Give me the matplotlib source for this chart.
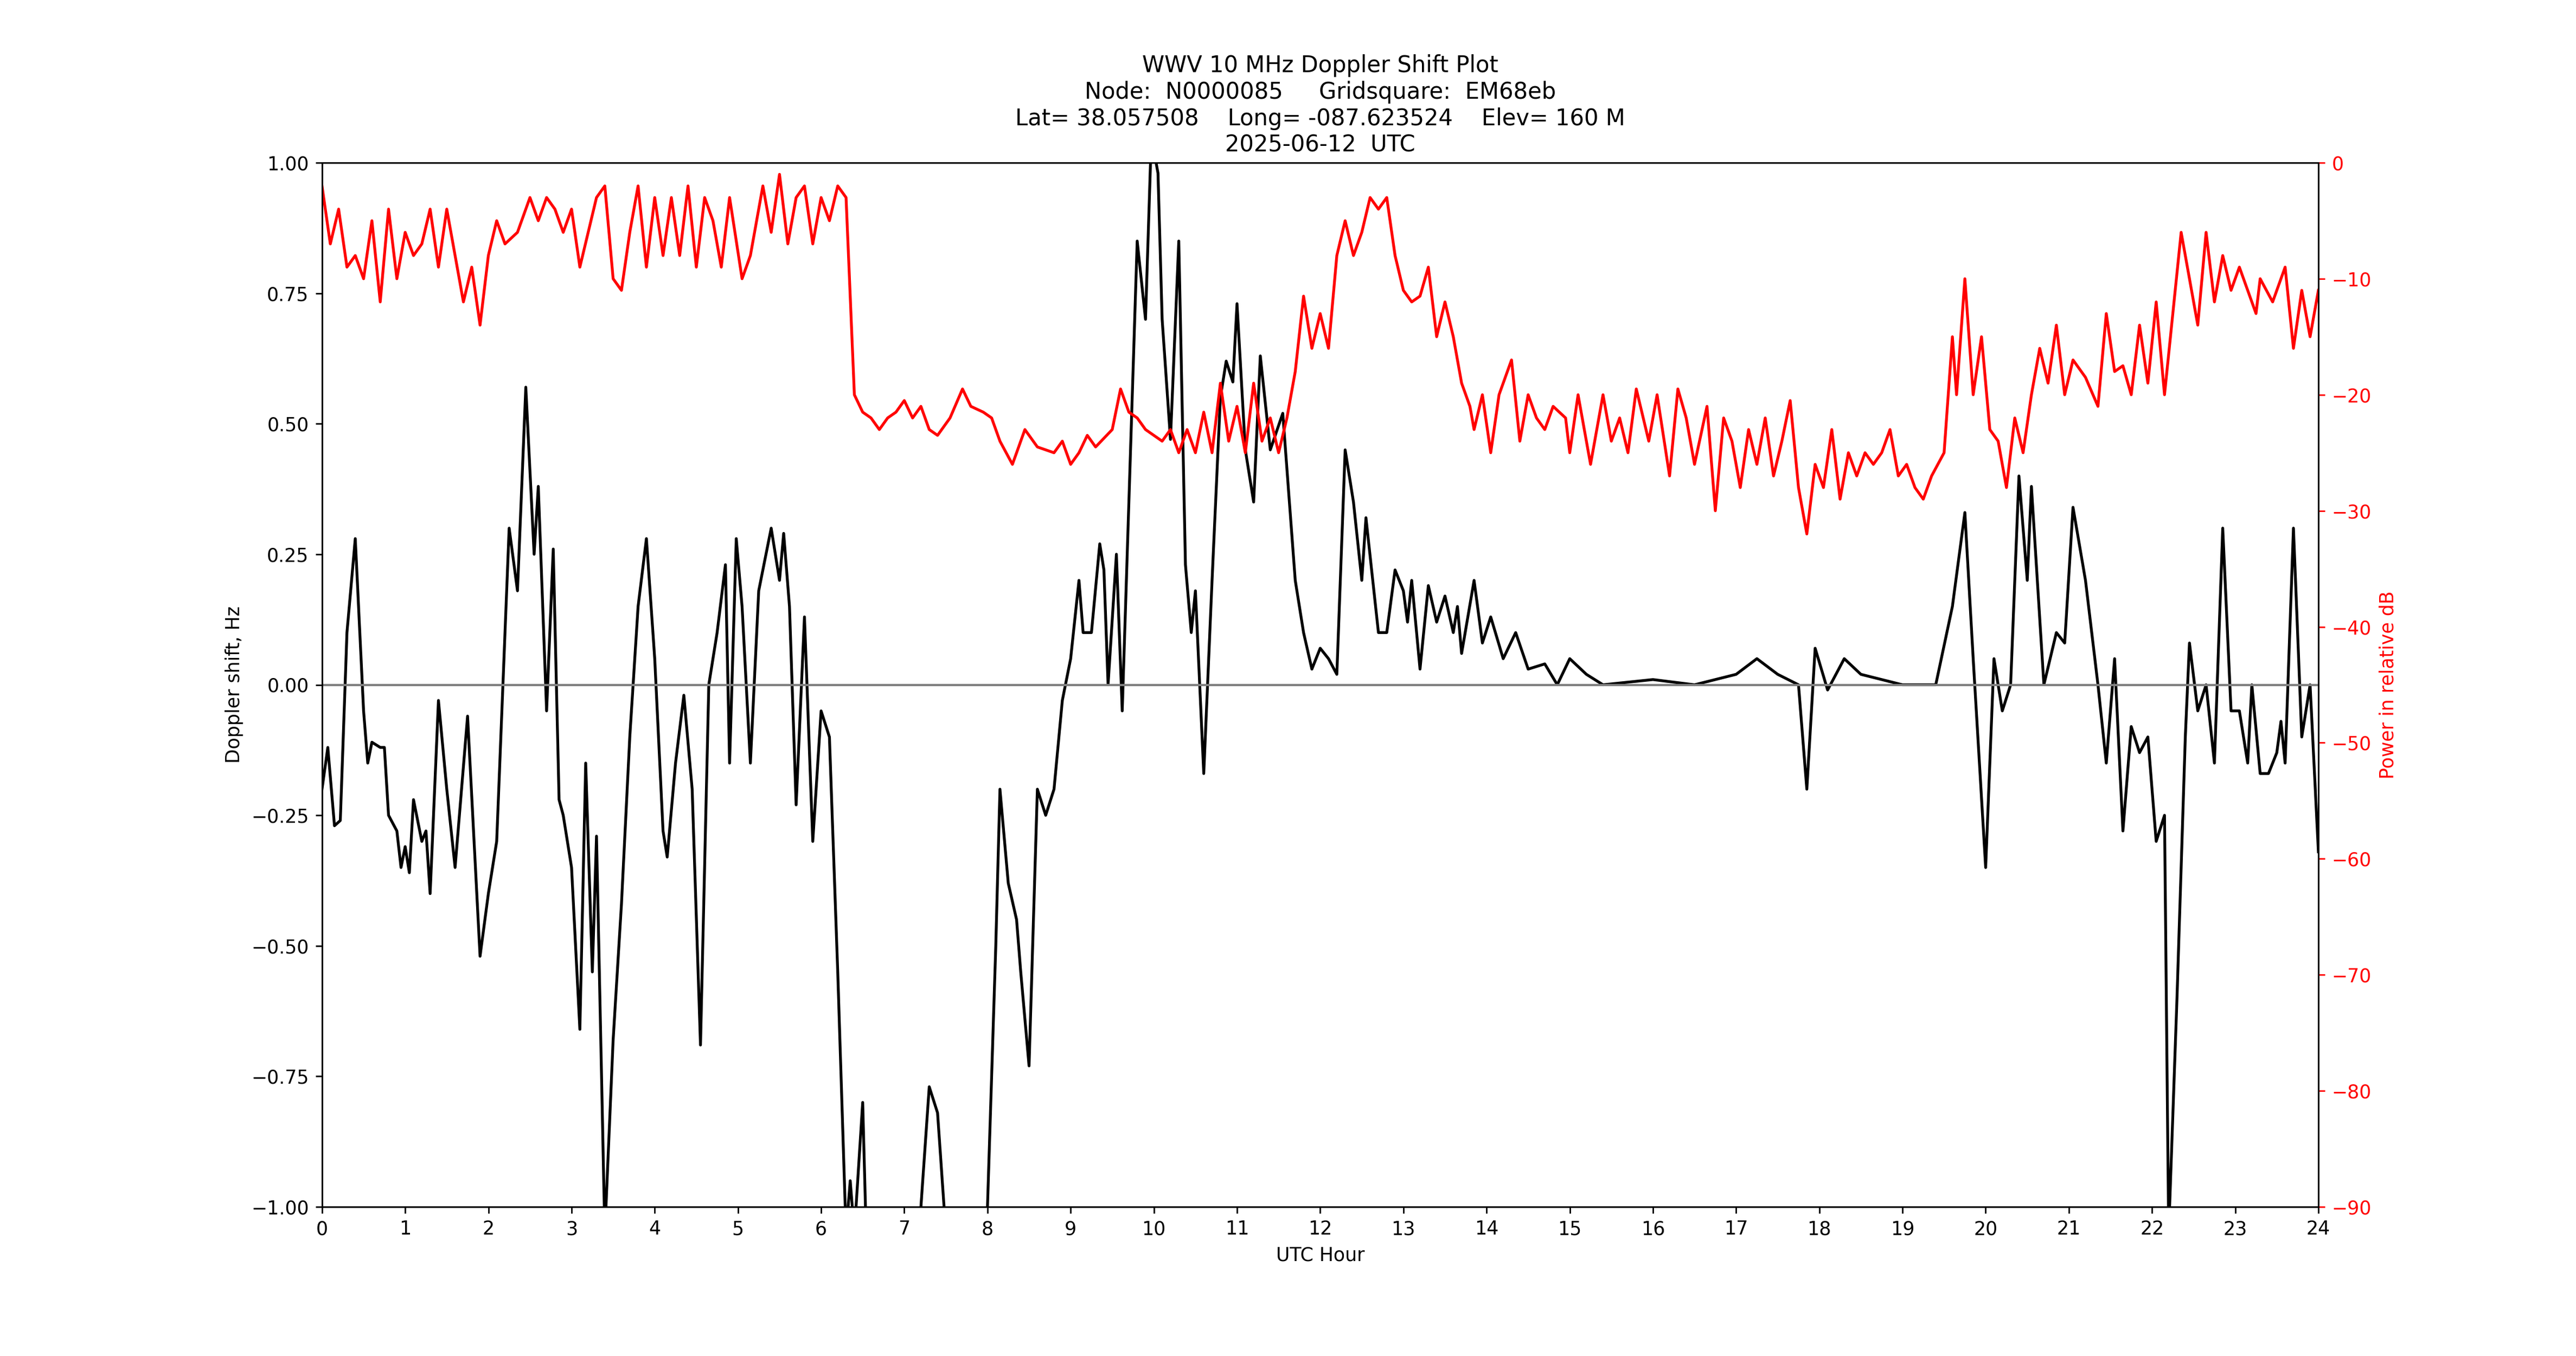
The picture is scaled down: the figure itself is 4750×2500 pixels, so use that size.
import matplotlib
matplotlib.use("Agg")
import matplotlib.pyplot as plt

# Doppler shift (Hz) vs UTC hour
dop_hr = [0, 0.07, 0.15, 0.22, 0.3, 0.4, 0.5, 0.55, 0.6, 0.7, 0.75, 0.8, 0.9, 0.95, 1.0, 1.05, 1.1, 1.2, 1.25, 1.3,
          1.4, 1.5, 1.6, 1.75, 1.9, 2.0, 2.1, 2.2, 2.25, 2.35, 2.45, 2.55, 2.6, 2.7, 2.78, 2.85, 2.9, 3.0, 3.1, 3.17,
          3.25, 3.3, 3.4, 3.5, 3.6, 3.7, 3.8, 3.9, 4.0, 4.1, 4.15, 4.25, 4.35, 4.45, 4.55, 4.65, 4.75, 4.85, 4.9, 4.98,
          5.05, 5.15, 5.25, 5.4, 5.5, 5.55, 5.62, 5.7, 5.8, 5.9, 6.0, 6.1, 6.2, 6.3, 6.35, 6.4, 6.5, 6.55, 7.0, 7.2,
          7.3, 7.4, 7.5, 7.8, 8.0, 8.1, 8.15, 8.25, 8.35, 8.4, 8.5, 8.6, 8.7, 8.8, 8.9, 9.0, 9.1, 9.15, 9.25, 9.35,
          9.4, 9.45, 9.55, 9.62, 9.7, 9.8, 9.9, 9.97, 10.05, 10.1, 10.2, 10.3, 10.38, 10.45, 10.5, 10.6, 10.7, 10.8, 10.87, 10.95,
          11.0, 11.1, 11.2, 11.28, 11.4, 11.55, 11.7, 11.8, 11.9, 12.0, 12.1, 12.2, 12.3, 12.4, 12.5, 12.55, 12.7, 12.8, 12.9, 13.0,
          13.05, 13.1, 13.2, 13.3, 13.4, 13.5, 13.6, 13.65, 13.7, 13.85, 13.95, 14.05, 14.2, 14.35, 14.5, 14.7, 14.85, 15.0, 15.2, 15.4,
          16.0, 16.5, 17.0, 17.25, 17.5, 17.75, 17.85, 17.95, 18.1, 18.3, 18.5, 19.0, 19.4, 19.6, 19.75, 19.85, 20.0, 20.1, 20.2, 20.3,
          20.4, 20.5, 20.55, 20.7, 20.85, 20.95, 21.05, 21.2, 21.35, 21.45, 21.55, 21.65, 21.75, 21.85, 21.95, 22.05, 22.15, 22.2, 22.3, 22.4,
          22.45, 22.55, 22.65, 22.75, 22.85, 22.95, 23.05, 23.15, 23.2, 23.3, 23.4, 23.5, 23.55, 23.6, 23.7, 23.8, 23.9, 24.0]
dop_hz = [-0.2, -0.12, -0.27, -0.26, 0.1, 0.28, -0.05, -0.15, -0.11, -0.12, -0.12, -0.25, -0.28, -0.35, -0.31, -0.36, -0.22, -0.3, -0.28, -0.4,
          -0.03, -0.2, -0.35, -0.06, -0.52, -0.4, -0.3, 0.1, 0.3, 0.18, 0.57, 0.25, 0.38, -0.05, 0.26, -0.22, -0.25, -0.35, -0.66, -0.15,
          -0.55, -0.29, -1.05, -0.68, -0.42, -0.1, 0.15, 0.28, 0.05, -0.28, -0.33, -0.15, -0.02, -0.2, -0.69, 0.0, 0.1, 0.23, -0.15, 0.28,
          0.15, -0.15, 0.18, 0.3, 0.2, 0.29, 0.15, -0.23, 0.13, -0.3, -0.05, -0.1, -0.55, -1.05, -0.95, -1.05, -0.8, -1.1, -1.2, -1.0,
          -0.77, -0.82, -1.05, -1.2, -1.0, -0.5, -0.2, -0.38, -0.45, -0.55, -0.73, -0.2, -0.25, -0.2, -0.03, 0.05, 0.2, 0.1, 0.1, 0.27,
          0.22, 0.0, 0.25, -0.05, 0.35, 0.85, 0.7, 1.05, 0.98, 0.7, 0.47, 0.85, 0.23, 0.1, 0.18, -0.17, 0.2, 0.55, 0.62, 0.58,
          0.73, 0.45, 0.35, 0.63, 0.45, 0.52, 0.2, 0.1, 0.03, 0.07, 0.05, 0.02, 0.45, 0.35, 0.2, 0.32, 0.1, 0.1, 0.22, 0.18,
          0.12, 0.2, 0.03, 0.19, 0.12, 0.17, 0.1, 0.15, 0.06, 0.2, 0.08, 0.13, 0.05, 0.1, 0.03, 0.04, 0.0, 0.05, 0.02, 0.0,
          0.01, 0.0, 0.02, 0.05, 0.02, 0.0, -0.2, 0.07, -0.01, 0.05, 0.02, 0.0, 0.0, 0.15, 0.33, 0.05, -0.35, 0.05, -0.05, 0.0,
          0.4, 0.2, 0.38, 0.0, 0.1, 0.08, 0.34, 0.2, 0.0, -0.15, 0.05, -0.28, -0.08, -0.13, -0.1, -0.3, -0.25, -1.05, -0.6, -0.1,
          0.08, -0.05, 0.0, -0.15, 0.3, -0.05, -0.05, -0.15, 0.0, -0.17, -0.17, -0.13, -0.07, -0.15, 0.3, -0.1, 0.0, -0.32]

# Received power (relative dB)
pwr_hr = [0, 0.1, 0.2, 0.3, 0.4, 0.5, 0.6, 0.7, 0.8, 0.9, 1.0, 1.1, 1.2, 1.3, 1.4, 1.5, 1.6, 1.7, 1.8, 1.9,
          2.0, 2.1, 2.2, 2.35, 2.5, 2.6, 2.7, 2.8, 2.9, 3.0, 3.1, 3.2, 3.3, 3.4, 3.5, 3.6, 3.7, 3.8, 3.9, 4.0,
          4.1, 4.2, 4.3, 4.4, 4.5, 4.6, 4.7, 4.8, 4.9, 5.05, 5.15, 5.3, 5.4, 5.5, 5.6, 5.7, 5.8, 5.9, 6.0, 6.1,
          6.2, 6.3, 6.4, 6.5, 6.6, 6.7, 6.8, 6.9, 7.0, 7.1, 7.2, 7.3, 7.4, 7.55, 7.7, 7.8, 7.95, 8.05, 8.15, 8.3,
          8.45, 8.6, 8.8, 8.9, 9.0, 9.1, 9.2, 9.3, 9.5, 9.6, 9.7, 9.8, 9.9, 10.0, 10.1, 10.2, 10.3, 10.4, 10.5, 10.6,
          10.7, 10.8, 10.9, 11.0, 11.1, 11.2, 11.3, 11.4, 11.5, 11.6, 11.7, 11.8, 11.9, 12.0, 12.1, 12.2, 12.3, 12.4, 12.5, 12.6,
          12.7, 12.8, 12.9, 13.0, 13.1, 13.2, 13.3, 13.4, 13.5, 13.6, 13.7, 13.8, 13.85, 13.95, 14.05, 14.15, 14.3, 14.4, 14.5, 14.6,
          14.7, 14.8, 14.95, 15.0, 15.1, 15.25, 15.4, 15.5, 15.6, 15.7, 15.8, 15.95, 16.05, 16.2, 16.3, 16.4, 16.5, 16.65, 16.75, 16.85,
          16.95, 17.05, 17.15, 17.25, 17.35, 17.45, 17.55, 17.65, 17.75, 17.85, 17.95, 18.05, 18.15, 18.25, 18.35, 18.45, 18.55, 18.65, 18.75, 18.85,
          18.95, 19.05, 19.15, 19.25, 19.35, 19.5, 19.6, 19.65, 19.75, 19.85, 19.95, 20.05, 20.15, 20.25, 20.35, 20.45, 20.55, 20.65, 20.75, 20.85,
          20.95, 21.05, 21.2, 21.35, 21.45, 21.55, 21.65, 21.75, 21.85, 21.95, 22.05, 22.15, 22.25, 22.35, 22.45, 22.55, 22.65, 22.75, 22.85, 22.95,
          23.05, 23.15, 23.25, 23.3, 23.45, 23.6, 23.7, 23.8, 23.9, 24.0]
pwr_db = [-2, -7, -4, -9, -8, -10, -5, -12, -4, -10, -6, -8, -7, -4, -9, -4, -8, -12, -9, -14,
          -8, -5, -7, -6, -3, -5, -3, -4, -6, -4, -9, -6, -3, -2, -10, -11, -6, -2, -9, -3,
          -8, -3, -8, -2, -9, -3, -5, -9, -3, -10, -8, -2, -6, -1, -7, -3, -2, -7, -3, -5,
          -2, -3, -20, -21.5, -22, -23, -22, -21.5, -20.5, -22, -21, -23, -23.5, -22, -19.5, -21, -21.5, -22, -24, -26,
          -23, -24.5, -25, -24, -26, -25, -23.5, -24.5, -23, -19.5, -21.5, -22, -23, -23.5, -24, -23, -25, -23, -25, -21.5,
          -25, -19, -24, -21, -25, -19, -24, -22, -25, -22, -18, -11.5, -16, -13, -16, -8, -5, -8, -6, -3,
          -4, -3, -8, -11, -12, -11.5, -9, -15, -12, -15, -19, -21, -23, -20, -25, -20, -17, -24, -20, -22,
          -23, -21, -22, -25, -20, -26, -20, -24, -22, -25, -19.5, -24, -20, -27, -19.5, -22, -26, -21, -30, -22,
          -24, -28, -23, -26, -22, -27, -24, -20.5, -28, -32, -26, -28, -23, -29, -25, -27, -25, -26, -25, -23,
          -27, -26, -28, -29, -27, -25, -15, -20, -10, -20, -15, -23, -24, -28, -22, -25, -20, -16, -19, -14,
          -20, -17, -18.5, -21, -13, -18, -17.5, -20, -14, -19, -12, -20, -13, -6, -10, -14, -6, -12, -8, -11,
          -9, -11, -13, -10, -12, -9, -16, -11, -15, -11]

fig, ax = plt.subplots(figsize=(19, 10), dpi=250)
ax.plot(dop_hr, dop_hz, color="black", lw=1.5)
ax.axhline(0, color="grey", lw=1.2)
ax.set_xlim(0, 24)
ax.set_ylim(-1, 1)
ax.set_xticks(range(0, 25))
ax.set_xlabel("UTC Hour")
ax.set_ylabel("Doppler shift, Hz")
ax.set_title("WWV 10 MHz Doppler Shift Plot\nNode:  N0000085     Gridsquare:  EM68eb\n"
             "Lat= 38.057508    Long= -087.623524    Elev= 160 M\n2025-06-12  UTC")

ax2 = ax.twinx()
ax2.plot(pwr_hr, pwr_db, color="red", lw=1.5)
ax2.set_ylim(-90, 0)
ax2.set_ylabel("Power in relative dB", color="red")
ax2.tick_params(axis="y", colors="red")

fig.savefig("out.png")
